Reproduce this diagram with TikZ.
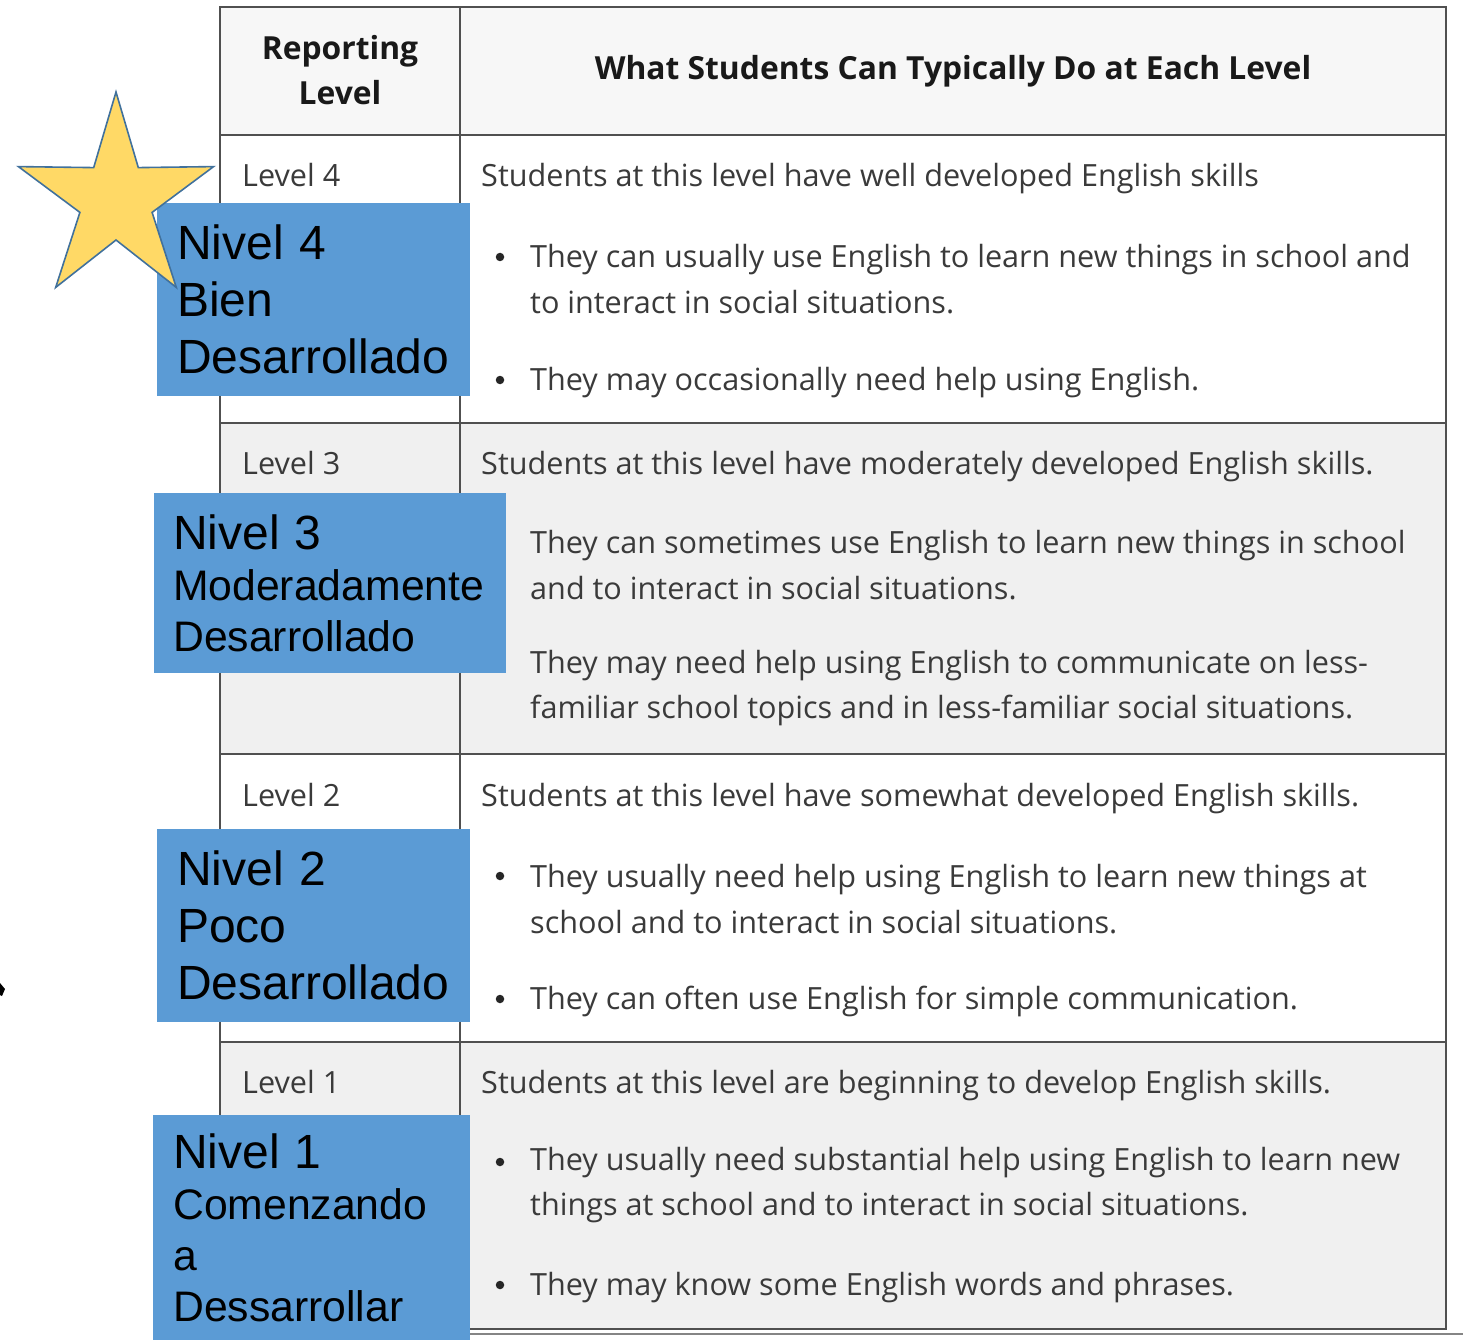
\documentclass[tikz,border=0pt]{standalone}
\usepackage{fontspec}
\setmainfont{Open Sans}
\newfontfamily\slidefont{Liberation Sans}
\usetikzlibrary{positioning}
\definecolor{slideblue}{RGB}{91,155,213}
\definecolor{stargold}{RGB}{255,217,102}
\definecolor{staredge}{RGB}{65,113,156}
\definecolor{gridline}{RGB}{80,80,80}
\definecolor{rowgray}{RGB}{240,240,240}
\definecolor{headgray}{RGB}{247,247,247}
\definecolor{celltext}{RGB}{58,58,58}
\tikzset{every picture/.style={x=1pt,y=-1pt},
  cell/.style={font=\fontsize{30.6}{45.5}\selectfont, text=celltext, anchor=west, inner sep=0pt, align=left},
  dot/.style={circle, fill=black!85, inner sep=0pt, minimum size=8.5pt},
  head/.style={font=\bfseries\fontsize{31.8}{45}\selectfont, text=black!90, align=center, inner sep=0pt},
  nivel/.style={fill=slideblue, text=black, align=left, inner xsep=20pt, inner ysep=0pt, anchor=north west, font=\slidefont\fontsize{48}{57}\selectfont},
  small nivel/.style={nivel, font=\slidefont\fontsize{42.7}{51}\selectfont},
  starshape/.style={fill=stargold, draw=staredge, line width=1.6pt, line join=miter}}

\begin{document}
\begin{tikzpicture}
  \useasboundingbox (0,0) rectangle (1466,1340);
  \fill[headgray] (220,7) rectangle (1446,135);
  \fill[white] (220,135) rectangle (1446,423);
  \fill[rowgray] (220,423) rectangle (1446,754);
  \fill[white] (220,754) rectangle (1446,1042);
  \fill[rowgray] (220,1042) rectangle (1446,1329);
  \draw[gridline, line width=2.4pt] (220,7) rectangle (1446,1329);
  \draw[gridline, line width=2.4pt] (460,7) -- (460,1329);
  \foreach \y in {135,423,754,1042}
    \draw[gridline, line width=2.4pt] (220,\y) -- (1446,\y);
  \draw[gridline!70, line width=1.6pt] (220,1334) -- (1463,1334);

  \node[head] (hlvl) at (340,70) {Reporting\\Level};
  \node[head] (hwhat) at (953,71) {What Students Can Typically Do at Each Level};

  \node[cell] (lv4) at (242,175) {Level 4};
  \node[cell] (t4) at (481,179) {Students at this level have well developed English skills};
  \node[dot] (b4a) at (500,257) {};
  \node[cell] (i4a) at (530,279) {They can usually use English to learn new things in school and\\to interact in social situations.};
  \node[dot] (b4b) at (500,380) {};
  \node[cell] (i4b) at (530,383) {They may occasionally need help using English.};

  \node[cell] (lv3) at (242,463) {Level 3};
  \node[cell] (t3) at (481,467) {Students at this level have moderately developed English skills.};
  \node[dot] (b3a) at (500,542) {};
  \node[cell] (i3a) at (530,565) {They can sometimes use English to learn new things in school\\and to interact in social situations.};
  \node[dot] (b3b) at (500,665) {};
  \node[cell] (i3b) at (530,688) {They may need help using English to communicate on less-\\familiar school topics and in less-familiar social situations.};

  \node[cell] (lv2) at (242,795) {Level 2};
  \node[cell] (t2) at (481,799) {Students at this level have somewhat developed English skills.};
  \node[dot] (b2a) at (500,876) {};
  \node[cell] (i2a) at (530,899) {They usually need help using English to learn new things at\\school and to interact in social situations.};
  \node[dot] (b2b) at (500,999) {};
  \node[cell] (i2b) at (530,1001) {They can often use English for simple communication.};

  \node[cell] (lv1) at (242,1082) {Level 1};
  \node[cell] (t1) at (481,1086) {Students at this level are beginning to develop English skills.};
  \node[dot] (b1a) at (500,1162) {};
  \node[cell] (i1a) at (530,1185) {They usually need substantial help using English to learn new\\things at school and to interact in social situations.};
  \node[dot] (b1b) at (500,1285) {};
  \node[cell] (i1b) at (530,1288) {They may know some English words and phrases.};

  \node[nivel, minimum width=313, minimum height=193, text width=273] (n4) at (157,203) {Nivel 4\\Bien\\Desarrollado};
  \node[small nivel, minimum width=352, minimum height=180, text width=314, inner xsep=19pt] (n3) at (154,493) {{\fontsize{48}{51}\selectfont Nivel 3}\\Moderadamente\\Desarrollado};
  \node[nivel, minimum width=313, minimum height=193, text width=273] (n2) at (157,829) {Nivel 2\\Poco\\Desarrollado};
  \node[small nivel, minimum width=317, minimum height=225, text width=277] (n1) at (153,1115) {{\fontsize{48}{51}\selectfont Nivel 1}\\Comenzando\\a\\Dessarrollar};

  \draw[starshape] (116,92) -- (93.7,167.6) -- (18.4,166.6) -- (79.9,212.4) -- (55.7,287.4)
    -- (116,240) -- (176.3,287.4) -- (152.1,212.4) -- (213.6,166.6) -- (138.3,167.6) -- cycle;

  \fill (0,983) -- (5,989) -- (2,996) -- (0,995) -- cycle;
\end{tikzpicture}
\end{document}
